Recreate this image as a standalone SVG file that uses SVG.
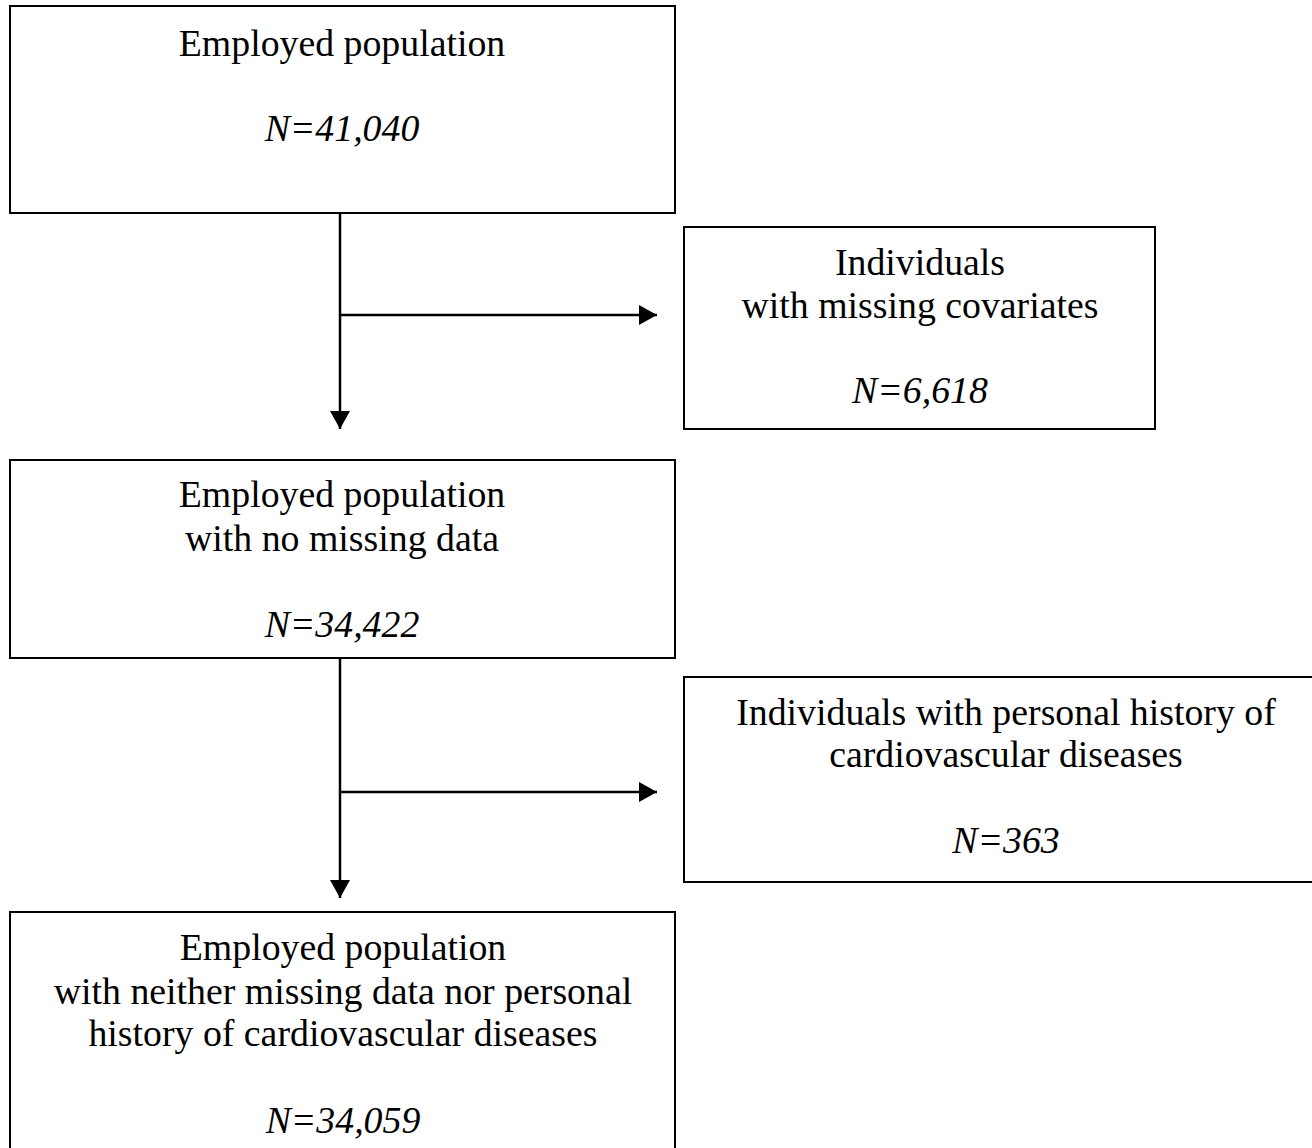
<svg xmlns="http://www.w3.org/2000/svg" width="1312" height="1148" viewBox="0 0 1312 1148">
<style>
.box{fill:#fff;stroke:#000;stroke-width:2}
.t{font-family:"Liberation Serif","Times New Roman",serif;font-size:37.8px;fill:#000;text-anchor:middle}
.i{font-style:italic}
.c{stroke:#000;stroke-width:2.5;fill:none}
</style>
<defs>
<marker id="ah" markerWidth="20" markerHeight="20" refX="18" refY="10" orient="auto" markerUnits="userSpaceOnUse">
<path d="M0,0 L18,10 L0,20 Z" fill="#000"/>
</marker>
</defs>
<rect width="1312" height="1148" fill="#fff"/>
<g id="n1">
<rect class="box" x="10" y="6" width="665" height="207"/>
<text class="t" x="342" y="56">Employed population</text>
<text class="t i" x="342" y="141">N=41,040</text>
</g>
<g id="n2">
<rect class="box" x="684" y="227" width="471" height="202"/>
<text class="t" x="920" y="275">Individuals</text>
<text class="t" x="920" y="318">with missing covariates</text>
<text class="t i" x="920" y="403">N=6,618</text>
</g>
<g id="n3">
<rect class="box" x="10" y="460" width="665" height="198"/>
<text class="t" x="342" y="507">Employed population</text>
<text class="t" x="342" y="551">with no missing data</text>
<text class="t i" x="342" y="637">N=34,422</text>
</g>
<g id="n4">
<rect class="box" x="684" y="677" width="644" height="205"/>
<text class="t" x="1006" y="725">Individuals with personal history of</text>
<text class="t" x="1006" y="767">cardiovascular diseases</text>
<text class="t i" x="1006" y="853">N=363</text>
</g>
<g id="n5">
<rect class="box" x="10" y="912" width="665" height="250"/>
<text class="t" x="343" y="960">Employed population</text>
<text class="t" x="343" y="1004">with neither missing data nor personal</text>
<text class="t" x="343" y="1046">history of cardiovascular diseases</text>
<text class="t i" x="343" y="1133">N=34,059</text>
</g>
<g id="connectors">
<line class="c" x1="340" y1="213" x2="340" y2="429" marker-end="url(#ah)"/>
<line class="c" x1="340" y1="315" x2="657" y2="315" marker-end="url(#ah)"/>
<line class="c" x1="340" y1="658" x2="340" y2="898" marker-end="url(#ah)"/>
<line class="c" x1="340" y1="792" x2="657" y2="792" marker-end="url(#ah)"/>
</g>
</svg>
